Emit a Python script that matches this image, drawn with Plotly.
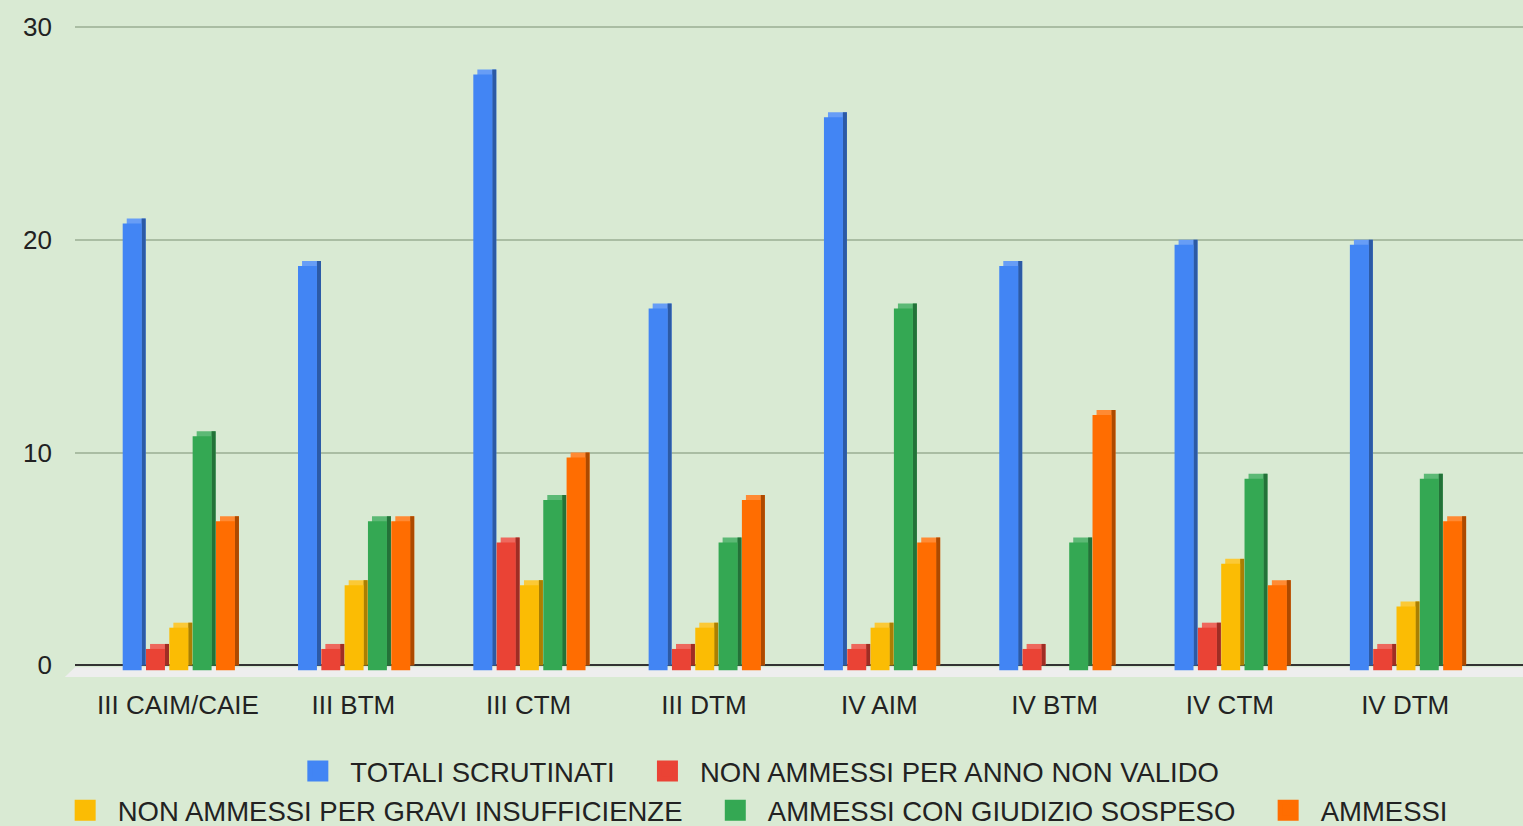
import plotly.graph_objects as go

# data
classi = ['III CAIM/CAIE', 'III BTM', 'III CTM', 'III DTM', 'IV AIM', 'IV BTM', 'IV CTM', 'IV DTM']
totali_scrutinati = [21, 19, 28, 17, 26, 19, 20, 20]
non_ammessi_anno = [1, 1, 6, 1, 1, 1, 2, 1]
non_ammessi_insuff = [2, 4, 4, 2, 2, 0, 5, 3]
ammessi_sospeso = [11, 7, 8, 6, 17, 6, 9, 9]
ammessi = [7, 7, 10, 8, 6, 12, 4, 7]

serie_nomi = ['TOTALI SCRUTINATI', 'NON AMMESSI PER ANNO NON VALIDO',
              'NON AMMESSI PER GRAVI INSUFFICIENZE', 'AMMESSI CON GIUDIZIO SOSPESO', 'AMMESSI']
serie_valori = [totali_scrutinati, non_ammessi_anno, non_ammessi_insuff, ammessi_sospeso, ammessi]
colori = ['#4285F4', '#EA4335', '#FBBC04', '#34A853', '#FF6D01']


def shade(hex_color, f):
  """f < 1 darkens, f > 1 mixes toward white"""
  r, g, b = (int(hex_color[i:i + 2], 16) for i in (1, 3, 5))
  if f <= 1:
    r, g, b = r * f, g * f, b * f
  else:
    t = f - 1
    r, g, b = r + (255 - r) * t, g + (255 - g) * t, b + (255 - b) * t
  return '#{:02x}{:02x}{:02x}'.format(int(r), int(g), int(b))


# fake 3D look: face + top + side
start = -0.3155   # first face left edge, relative to category centre
slot = 0.133
face_w = 0.108
dx = 0.023        # depth, x units
dy = 0.235        # depth, y units
pad = '\u00a0' * 2

fig = go.Figure()
for i, (nome, vals, col) in enumerate(zip(serie_nomi, serie_valori, colori)):
  off = start + i * slot
  fig.add_trace(go.Bar(x=classi, y=vals, base=0, offset=off + dx, width=face_w,
                       marker=dict(color=shade(col, 1.2), line_width=0),
                       showlegend=False, hoverinfo='skip'))
  fig.add_trace(go.Bar(x=classi, y=vals, base=0, offset=off + face_w, width=dx,
                       marker=dict(color=shade(col, 0.68), line_width=0),
                       showlegend=False, hoverinfo='skip'))
  fig.add_trace(go.Bar(x=classi, y=vals, base=-dy, offset=off, width=face_w,
                       marker=dict(color=col, line_width=0),
                       name=nome, showlegend=False))
  # legend entry
  last = i in (1, 4)
  fig.add_trace(go.Scatter(x=[None], y=[None], mode='markers',
                           name=nome if last else nome + pad,
                           marker=dict(symbol='square', size=26, color=col,
                                       line=dict(color=col, width=5)),
                           legend='legend' if i < 2 else 'legend2'))

# floor under the zero line
fig.add_shape(type='path', xref='paper', yref='y', layer='below',
              path='M 0,-0.1 L 1,-0.1 L 1,-0.55 L -0.007,-0.55 Z',
              fillcolor='#eeeeee', line_width=0)

legend_font = dict(family='Liberation Sans, Arial', size=27.5, color='#222222')
fig.update_layout(
  width=1523, height=826,
  margin=dict(l=75, r=0, t=26, b=148, autoexpand=False),
  paper_bgcolor='#d9ead3', plot_bgcolor='#d9ead3',
  barmode='overlay',
  font=dict(family='Liberation Sans, Arial', size=26, color='#222222'),
  legend=dict(orientation='h', x=0.4695, xanchor='center', y=-0.143, yanchor='middle',
              font=legend_font, bgcolor='rgba(0,0,0,0)', itemsizing='trace', itemwidth=55),
  legend2=dict(orientation='h', x=0.468, xanchor='center', y=-0.203, yanchor='middle',
               font=legend_font, bgcolor='rgba(0,0,0,0)', itemsizing='trace', itemwidth=55),
  xaxis=dict(type='category', range=[-0.5876, 7.672], showgrid=False, ticks='',
             showline=False, zeroline=False, ticklabelstandoff=9),
  yaxis=dict(range=[-0.6, 30.05], tick0=0, dtick=10, showgrid=True, gridcolor='#aabda3',
             gridwidth=1.5, zeroline=True, zerolinecolor='#333333', zerolinewidth=2,
             showline=False, ticks='', ticklabelstandoff=22),
)

fig.write_html("out.html", config={'displayModeBar': False},
               post_script="document.body.style.margin='0';")
